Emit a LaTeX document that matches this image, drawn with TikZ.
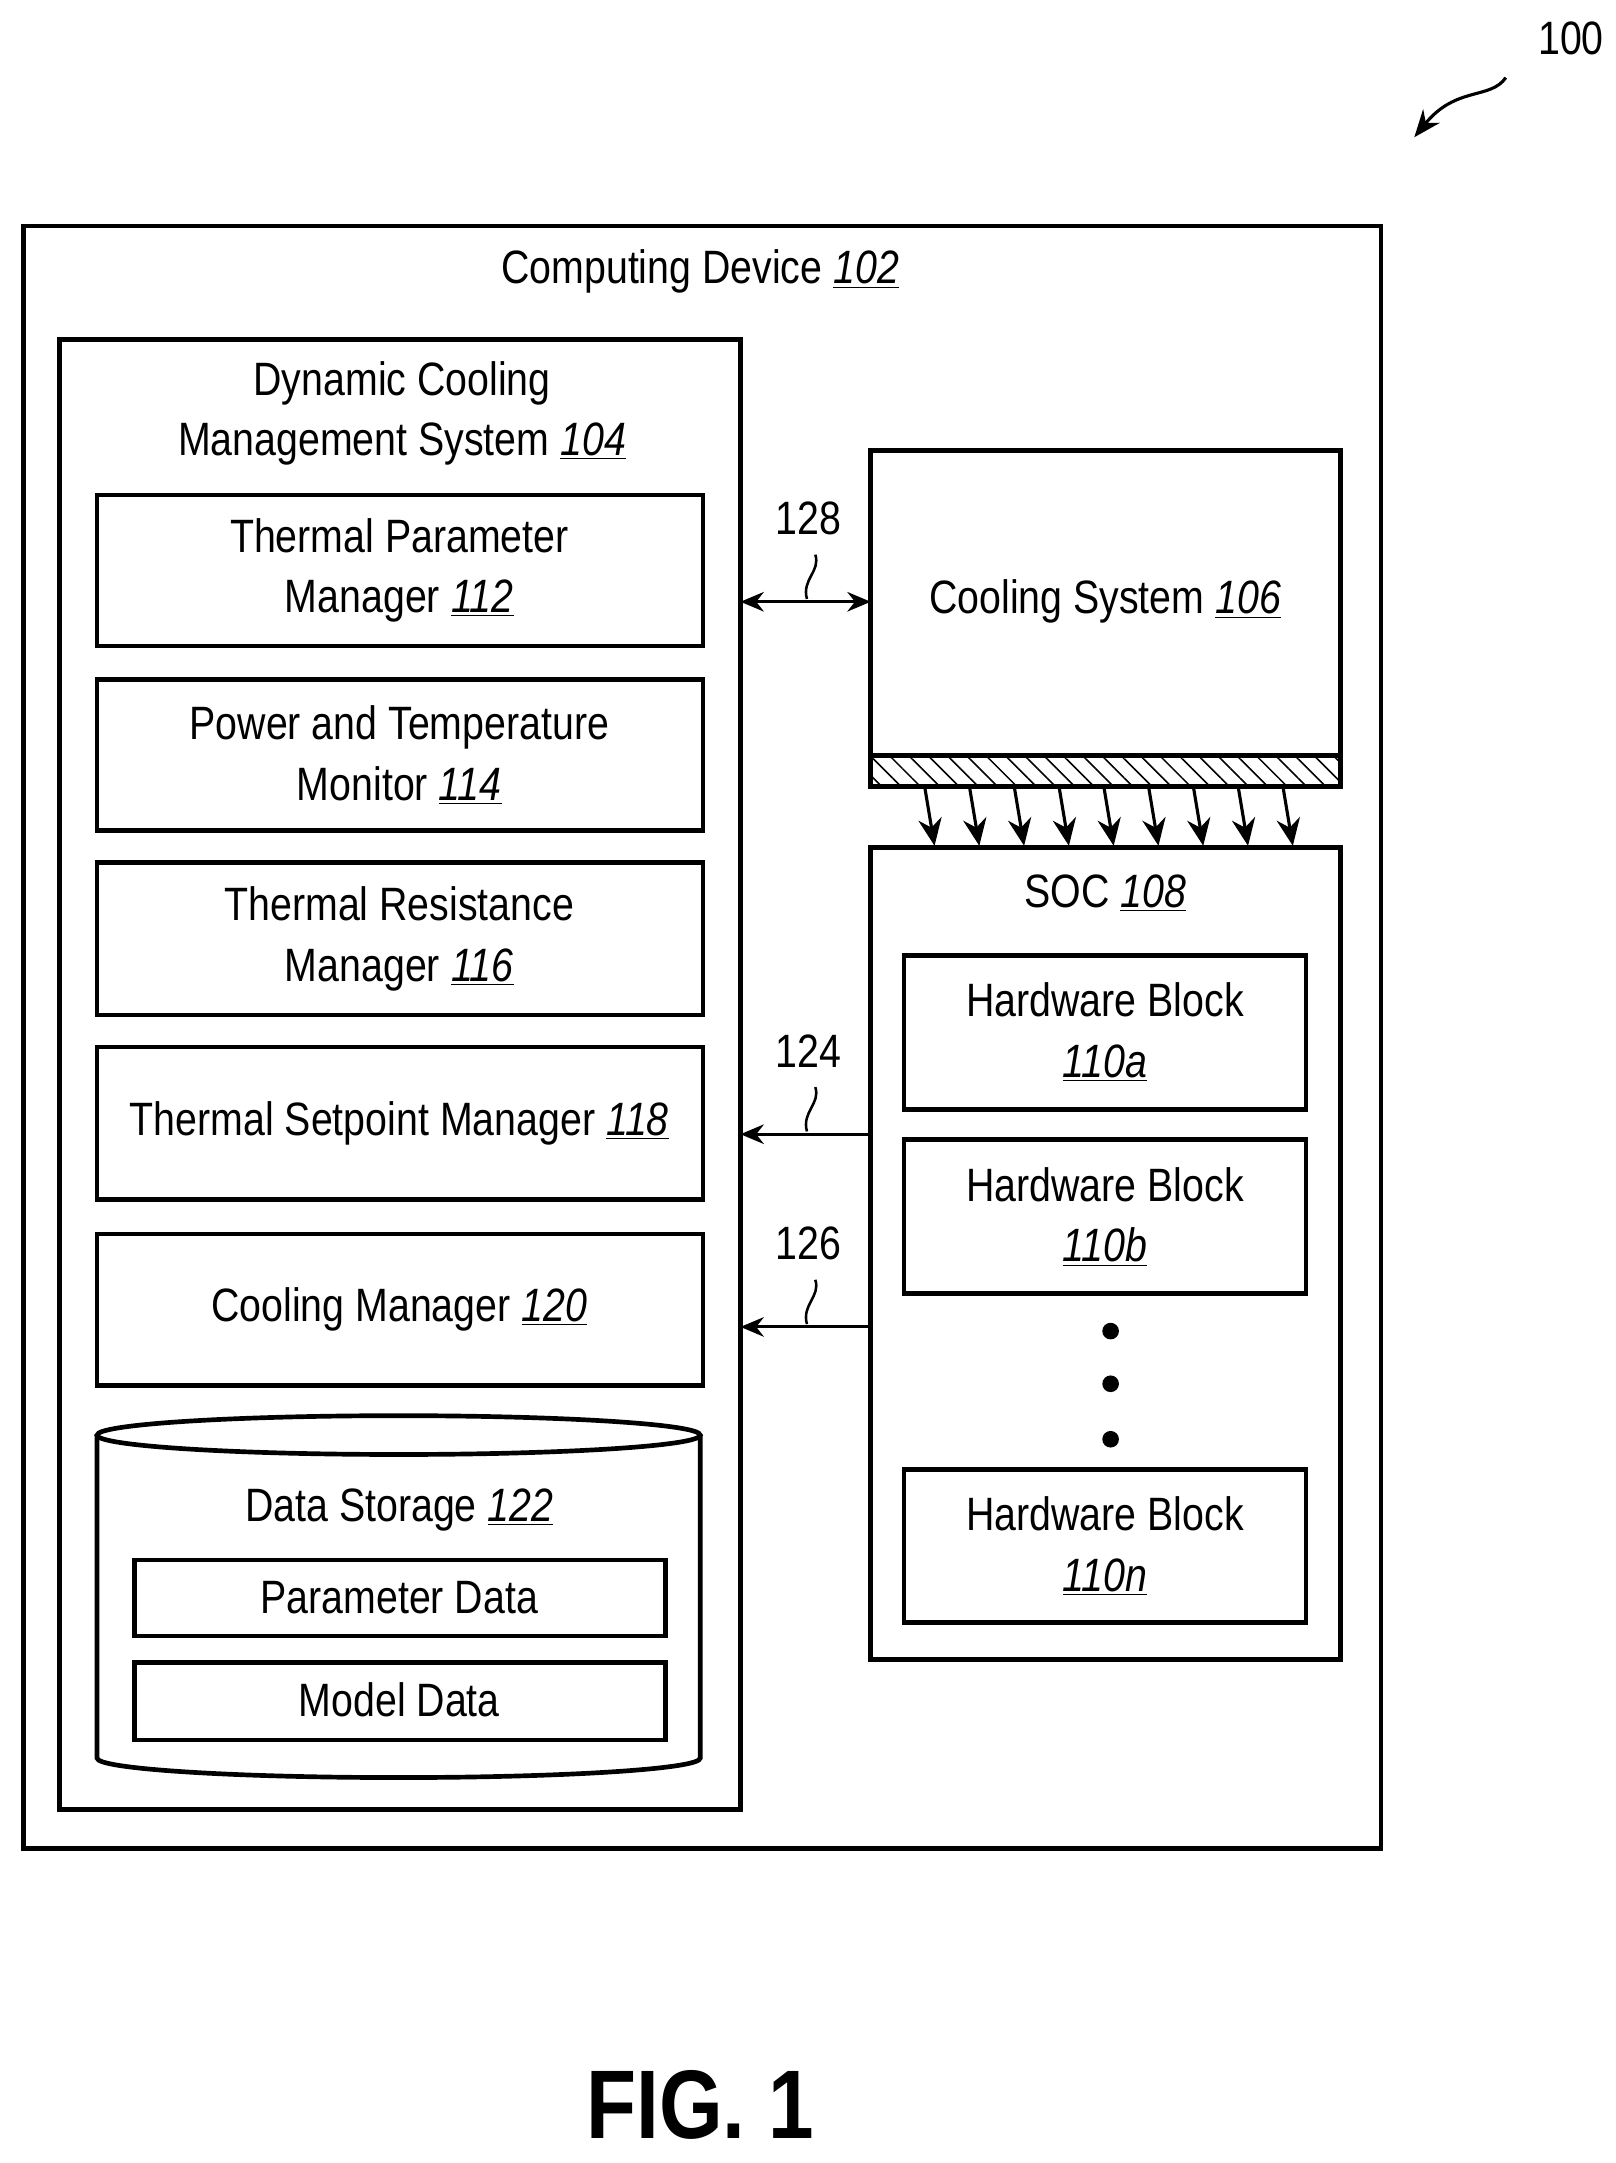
\documentclass[tikz,border=0pt]{standalone}
\usepackage{fontspec}
\setmainfont[FakeStretch=0.84]{Liberation Sans}
\usetikzlibrary{patterns.meta,arrows.meta}
\newcommand{\rn}[1]{\underline{\emph{#1}}}
\begin{document}
\begin{tikzpicture}[x=0.025cm,y=-0.025cm,
  box/.style={draw,line width=2.4pt},
  lbl/.style={font=\fontsize{24}{31}\selectfont,align=center,inner sep=0},
  arr/.style={line width=1.6pt,-{Stealth[length=14pt,width=12pt]}},
  sq/.style={line width=1.3pt}]
\useasboundingbox (0,0) rectangle (1165,1560);
\draw[box] (17,163) rectangle (996,1333);
\node[lbl] (t102) at (505,196) {Computing Device \rn{102}};
\draw[box] (43,245) rectangle (534,1305);
\node[lbl] (t104) at (290,298) {Dynamic Cooling\\Management System \rn{104}};
\foreach \n/\a/\b/\t in {112/357/466/{Thermal Parameter\\Manager \rn{112}},
  114/490/599/{Power and Temperature\\Monitor \rn{114}},
  116/622/732/{Thermal Resistance\\Manager \rn{116}},
  118/755/865/{Thermal Setpoint Manager \rn{118}},
  120/890/999/{Cooling Manager \rn{120}}}{
  \draw[box] (70,\a) rectangle (507,\b);
  \node[lbl] (m\n) at (288,{(\a+\b)/2}) {\t};}
% cylinder
\draw[box] (70,1035) -- (70,1268) arc[start angle=180,end angle=0,x radius=217.5,y radius=14] -- (505,1035);
\draw[box] (287.5,1035) ellipse[x radius=217.5,y radius=14];
\node[lbl] (t122) at (288,1089) {Data Storage \rn{122}};
\draw[box] (97,1125) rectangle (480,1180);
\node[lbl] (pd) at (288,1152) {Parameter Data};
\draw[box] (97,1199) rectangle (480,1255);
\node[lbl] (md) at (288,1226) {Model Data};
% cooling system
\draw[box] (628,325) rectangle (967,545);
\node[lbl] (t106) at (797,434) {Cooling System \rn{106}};
\draw[line width=2.4pt,pattern={Lines[angle=-45,distance=7pt,line width=0.8pt]}] (628,545) rectangle (967,567);
\foreach \i in {0,...,8}{
  \draw[arr] ({667+\i*32.3},568) -- ({674+\i*32.3},610);}
% SOC
\draw[box] (628,611) rectangle (967,1197);
\node[lbl] (t108) at (797,644) {SOC \rn{108}};
\foreach \n/\a/\b in {a/689/800,b/822/933,n/1060/1170}{
  \draw[box] (652,\a) rectangle (942,\b);
  \node[lbl] (hb\n) at (797,{(\a+\b)/2}) {Hardware Block\\\rn{110\n}};}
\foreach \y in {960,998,1038} \fill (801,\y) circle (6);
% connectors
\coordinate (l128) at (534,434); \coordinate (r128) at (628,434);
\draw[line width=1.6pt,{Stealth[length=12pt,width=10pt]}-{Stealth[length=12pt,width=10pt]}] (l128) -- (r128);
\node[lbl] (n128) at (583,374) {128};
\draw[sq] (588,400) .. controls (592,412) and (578,418) .. (582,432);
\coordinate (l124) at (534,818); \coordinate (r124) at (628,818);
\draw[line width=1.6pt,-{Stealth[length=12pt,width=10pt]}] (r124) -- (l124);
\node[lbl] (n124) at (583,758) {124};
\draw[sq] (588,784) .. controls (592,796) and (578,802) .. (582,816);
\coordinate (l126) at (534,957); \coordinate (r126) at (628,957);
\draw[line width=1.6pt,-{Stealth[length=12pt,width=10pt]}] (r126) -- (l126);
\node[lbl] (n126) at (583,897) {126};
\draw[sq] (588,923) .. controls (592,935) and (578,941) .. (582,955);
% 100
\node[lbl] (n100) at (1133,28) {100};
\coordinate (s100) at (1086,56); \coordinate (e100) at (1020,99);
\draw[line width=1.6pt,-{Stealth[length=14pt,width=11pt]}] (s100) .. controls (1075,72) and (1050,62) .. (e100);
\node[inner sep=0,font=\fontsize{50}{54}\selectfont\bfseries] (fig) at (505,1518) {FIG. 1};
\end{tikzpicture}
\end{document}
